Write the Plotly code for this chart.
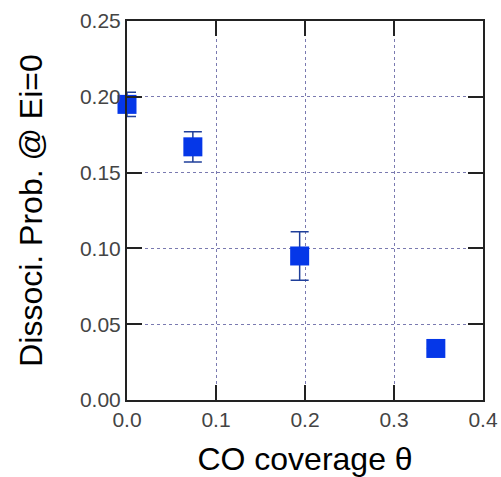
import plotly.graph_objects as go

# CO coverage vs. dissociation probability at zero incident energy
coverage = [0.0, 0.074, 0.194, 0.347]
dissoc_prob = [0.195, 0.167, 0.095, 0.034]
prob_err = [0.008, 0.010, 0.016, 0.0]

x_ticks = [0.0, 0.1, 0.2, 0.3, 0.4]
x_tick_text = ["0.0", "0.1", "0.2", "0.3", "0.4"]
y_ticks = [0.00, 0.05, 0.10, 0.15, 0.20, 0.25]
y_tick_text = ["0.00", "0.05", "0.10", "0.15", "0.20", "0.25"]

FONT = "Liberation Sans, Arial, sans-serif"

fig = go.Figure()
fig.add_trace(go.Scatter(
    x=coverage, y=dissoc_prob, mode="markers",
    marker=dict(symbol="square", size=19, color="#0537e8",
                line=dict(width=0)),
    error_y=dict(type="data", array=prob_err, visible=True,
                 color="#1f3f9a", thickness=1.5, width=9),
    cliponaxis=False, showlegend=False,
))

axis_common = dict(
    showline=True, linecolor="#222222", linewidth=2, mirror="ticks",
    ticks="inside", ticklen=15, tickwidth=2, tickcolor="#222222",
    showgrid=True, gridcolor="#7a7ab0", gridwidth=1.2,
    zeroline=False, automargin=False,
    tickfont=dict(family=FONT, size=21, color="#444444"),
)

fig.update_layout(
    width=501, height=477,
    margin=dict(l=127, r=18, t=21, b=77),
    paper_bgcolor="white", plot_bgcolor="white",
    xaxis=dict(range=[0, 0.4], tickvals=x_ticks, ticktext=x_tick_text,
               griddash="dot",
               title=dict(text="CO coverage θ", standoff=18,
                          font=dict(family=FONT, size=32, color="#000000")),
               **axis_common),
    yaxis=dict(range=[0, 0.25], tickvals=y_ticks, ticktext=y_tick_text,
               griddash="3px,3px",
               title=dict(text="Dissoci. Prob. @ Ei=0", standoff=28,
                          font=dict(family=FONT, size=32, color="#000000")),
               **axis_common),
)

fig.write_html("out.html")
